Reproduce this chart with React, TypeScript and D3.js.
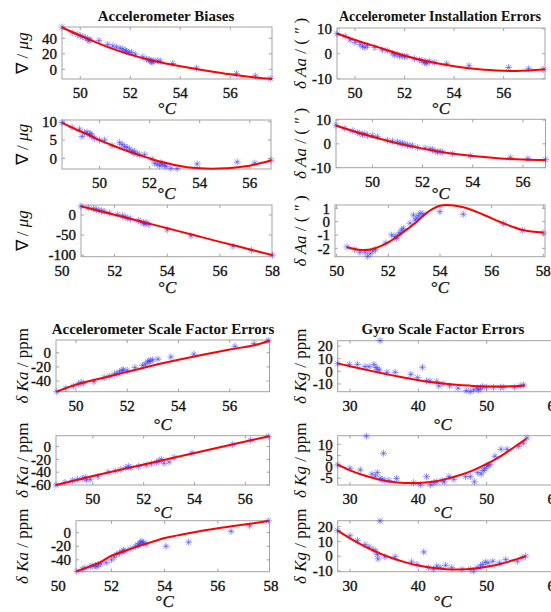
import * as d3 from 'd3';

const serif = "'Liberation Serif','Times New Roman',Times,serif";

// Accelerometer biases (three rows, same temperature sweeps as the other accel panels)
const biasFit1 = [[49.27, 54], [50, 43.5], [51, 30], [52, 19], [53, 10.5], [54, 4], [55, -1.5], [56, -6.5], [57, -10.5], [57.67, -12.5]];
const biasPts1 = [[49.27, 54.5], [49.7, 47], [49.9, 45], [50.0, 43], [50.1, 42], [50.2, 41], [50.3, 39], [50.35, 37], [50.4, 38], [50.75, 37], [51.1, 32], [51.3, 30], [51.45, 28.5], [51.6, 27], [51.7, 26], [51.8, 24.5], [51.85, 23], [51.95, 22], [52.05, 21.5], [52.2, 19.5], [52.5, 16], [52.65, 13], [52.75, 12.5], [52.8, 11], [52.85, 10], [52.9, 9.5], [52.95, 11], [53.1, 11], [53.2, 10.5], [53.7, 7.5], [54.65, 1.5], [56.25, -5.5], [57.0, -8.5], [57.6, -12]];

const biasFit2 = [[48.5, 9.7], [49, 8.1], [49.5, 6.6], [50, 5.0], [50.5, 3.6], [51, 2.3], [51.5, 1.1], [52, 0.0], [52.5, -1.0], [53, -1.8], [53.5, -2.4], [54, -2.7], [54.5, -2.8], [55, -2.7], [55.5, -2.4], [56, -2.0], [56.5, -1.2], [56.85, -0.6]];
const biasPts2 = [[48.5, 9.8], [48.9, 8.5], [49.2, 8], [49.3, 6], [49.4, 7], [49.5, 7.2], [49.6, 6.5], [49.65, 6.8], [49.7, 6.0], [49.8, 5.5], [50.0, 5], [50.2, 5], [50.5, 3.5], [50.8, 4.3], [50.9, 3.8], [51.0, 3.2], [51.1, 3], [51.2, 2.5], [51.3, 2], [51.35, 1.5], [51.4, 1.8], [51.5, 1.2], [51.6, 1.0], [51.8, 1.0], [52.1, -0.2], [52.2, -1.3], [52.3, -1.5], [52.4, -2.0], [52.45, -1.2], [52.5, -1.5], [52.6, -1.8], [52.65, -2.2], [52.85, -2.7], [53.1, -2.8], [53.9, -1.5], [55.5, -1.0], [56.2, -1.3], [56.85, -0.5]];

const biasFit3 = [[50.72, 22], [52, 0.5], [53, -16], [54, -33], [55, -50], [56, -67], [57, -83.5], [58, -100]];
const biasPts3 = [[50.72, 22], [51.0, 18], [51.2, 16], [51.3, 14], [51.4, 12], [51.5, 10], [51.6, 9], [51.8, 5], [52.1, 1], [52.3, -2], [52.4, -5], [52.5, -8], [52.6, -10], [52.9, -14], [53.0, -17], [53.1, -20], [53.15, -22], [53.2, -19], [53.3, -24], [54.0, -37], [54.9, -52], [56.5, -78], [57.2, -88], [58, -100]];

// Accelerometer installation errors
const instFit1 = [[49.27, 8.1], [50, 5.5], [51, 2.4], [52, -0.8], [53, -3.2], [54, -5.0], [55, -6.2], [56, -6.8], [56.5, -6.9], [57, -6.7], [57.67, -6.2]];
const instPts1 = [[49.27, 8], [49.6, 7], [49.8, 5.5], [50.0, 4.5], [50.2, 3.8], [50.3, 3.0], [50.4, 2.5], [50.5, 3.2], [50.8, 2.5], [51.1, 1.5], [51.3, 1.2], [51.5, 0.2], [51.6, -0.5], [51.7, -0.2], [51.8, -1], [51.9, -0.8], [52.0, -1.2], [52.1, -1.0], [52.4, -2], [52.6, -2.5], [52.7, -2.8], [52.8, -3.5], [52.85, -3.2], [52.9, -3.8], [53.0, -3], [53.2, -3.5], [53.7, -4], [54.6, -4.8], [56.2, -5.5], [57.0, -6], [57.6, -6.3]];

const instFit2 = [[48.55, 7.7], [49, 6.1], [50, 3.0], [51, 0.2], [52, -2.0], [53, -3.8], [54, -5.1], [55, -6.0], [56, -6.6], [56.9, -6.8]];
const instPts2 = [[48.55, 7.8], [48.9, 6.5], [49.2, 5.5], [49.4, 4.8], [49.5, 4.5], [49.6, 3.8], [49.7, 4.2], [49.8, 3.5], [50.0, 3.5], [50.2, 3.0], [50.6, 1.5], [50.8, 1.2], [51.0, 0.8], [51.1, 0.3], [51.2, 0.2], [51.3, -0.2], [51.4, -0.5], [51.5, -0.8], [51.6, -0.8], [51.8, -1.5], [52.1, -1.8], [52.3, -2.2], [52.4, -2.5], [52.5, -3], [52.6, -3.5], [52.7, -3.2], [52.8, -3.5], [53.2, -4.2], [53.9, -5], [55.5, -5.8], [56.2, -6.2], [56.9, -6.6]];

const instFit3 = [[50.4, -1.92], [50.9, -2.12], [51.36, -2.07], [51.94, -1.62], [52.6, -0.75], [53.1, 0.0], [53.5, 0.68], [54.0, 1.2], [54.9, 1.08], [55.7, 0.5], [56.45, -0.12], [57.2, -0.62], [58, -0.82]];
const instPts3 = [[50.4, -1.9], [50.7, -2.1], [50.9, -2.3], [51.1, -2.3], [51.2, -2.6], [51.3, -2.4], [51.4, -2.2], [51.5, -2.1], [51.9, -1.6], [52.13, -1.0], [52.26, -1.12], [52.32, -1.25], [52.39, -1.0], [52.45, -0.83], [52.52, -0.63], [52.58, -0.5], [52.84, -0.12], [52.97, 0.5], [53.04, 0.12], [53.1, 0.25], [53.17, 0.43], [53.23, 0.63], [53.34, 0.58], [54.0, 0.75], [54.9, 0.55], [56.45, -0.15], [57.2, -0.65], [58, -0.85]];

// Accelerometer scale factor errors
const kaFit1 = [[49.25, -55], [50, -45], [51, -36], [52, -27], [53, -18], [54, -10], [55, -2.5], [56, 4.5], [57, 11], [57.55, 17]];
const kaPts1 = [[49.25, -55], [49.6, -50], [49.9, -47], [50.1, -44], [50.2, -42], [50.3, -43], [50.7, -41], [51.1, -35], [51.3, -33], [51.5, -30], [51.6, -29], [51.7, -27], [51.8, -25], [51.85, -24], [52.0, -25], [52.3, -21], [52.6, -18], [52.7, -16], [52.8, -13], [52.85, -12], [52.9, -11], [53.0, -10], [53.2, -9], [53.7, -6], [54.6, -2], [56.2, 9], [56.95, 13], [57.5, 17.5]];

const kaFit2 = [[48.55, -60], [50, -46], [52, -28], [54, -10], [56, 8], [56.95, 16]];
const kaPts2 = [[48.55, -60], [48.9, -56], [49.2, -53], [49.4, -51], [49.6, -50], [49.7, -48], [49.75, -52], [49.9, -51], [50.2, -47], [50.6, -40], [50.9, -38], [51.1, -36], [51.3, -33], [51.4, -31], [51.5, -33], [51.8, -31], [52.1, -29], [52.3, -27], [52.5, -25], [52.6, -22], [52.7, -20], [52.8, -26], [53.0, -24], [53.2, -17], [53.9, -10], [55.5, 3], [56.2, 10], [56.9, 16]];

const kaFit3 = [[50.68, -57], [51.5, -45], [52, -34], [52.5, -27], [53, -20], [53.5, -14], [54, -8], [54.5, -4], [55, 0], [56, 6.5], [57, 12], [57.9, 17]];
const kaPts3 = [[50.7, -57], [50.9, -54], [51.0, -52], [51.2, -50], [51.3, -49], [51.4, -48], [51.45, -50], [51.5, -47], [51.6, -46], [51.8, -44], [52.0, -40], [52.1, -36], [52.2, -32], [52.3, -30], [52.4, -28], [52.45, -26], [52.5, -27], [52.7, -24], [52.9, -20], [53.0, -18], [53.05, -16], [53.1, -14], [53.15, -13], [53.2, -15], [53.3, -17], [54.05, -20], [54.9, -14], [56.5, 2], [57.2, 10], [57.9, 17.5]];

// Gyro scale factor errors
const kgFit1 = [[28.2, 6.3], [30, 4.0], [32, 1.6], [34, -0.8], [36, -3.0], [38, -5.0], [40, -7.0], [42, -8.6], [44, -9.9], [46, -10.9], [48, -11.5], [50, -11.9], [52, -12.0], [54, -11.7], [55.6, -11.2]];
const kgPts1 = [[28.2, 6], [29.9, 5.5], [31.1, 5.5], [32.2, 3.7], [32.8, 3.7], [33.5, 5.5], [33.8, 3], [34.0, 1.7], [34.3, 1], [34.4, 24.2], [35.4, -0.8], [36.6, -0.8], [38.9, -2.4], [39.9, -5], [40.6, 3.2], [41.2, -7.6], [41.7, -7.6], [42.7, -8.1], [43.0, -11.5], [43.6, -9.9], [44.6, -11.5], [45.8, -13.3], [47.0, -15.3], [47.6, -16], [48.1, -14.7], [48.6, -13.3], [48.8, -14.7], [49.1, -13.3], [49.4, -12.2], [50.0, -12.6], [51.0, -12.6], [52.0, -12.6], [52.5, -12.6], [54.1, -12.6], [54.9, -11.5], [55.4, -10.8]];

const kgFit2 = [[28.2, 1.0], [30, -1.5], [32, -3.7], [34, -5.4], [36, -6.6], [38, -7.1], [40, -7.1], [42, -6.6], [44, -5.4], [46, -3.7], [48, -1.5], [50, 1.3], [52, 4.7], [54, 8.7], [55.8, 12.4]];
const kgPts2 = [[28.2, 0.9], [30, -0.6], [31.5, -1.3], [32.4, 13.6], [33.2, -3.2], [33.7, -4.1], [34.0, -2.5], [34.4, -5.1], [34.7, -5.5], [34.9, 6.0], [35.1, -6], [35.7, -6], [36.8, -5.1], [39.3, -7], [40.3, -7.9], [41.2, -4.3], [41.8, -7.9], [42.3, -7], [42.7, -6.6], [43.5, -6], [43.8, -6.6], [44.5, -4.3], [45.2, -5.5], [46.9, -4.3], [47.6, -4.3], [48.2, -6.6], [48.7, -2.5], [49.2, -3.2], [49.5, -1.6], [49.7, -0.8], [50.0, 0.3], [50.2, 0.7], [50.5, 1.0], [51.2, 4.7], [52.1, 7.8], [53.0, 7.8], [54.7, 9.1], [55.4, 10.5], [55.9, 12.8]];

const kgFit3 = [[28.2, 17.3], [30, 12.1], [32, 7.0], [34, 2.6], [36, -1.1], [38, -4.0], [40, -6.3], [42, -7.9], [44, -8.8], [46, -9.0], [48, -8.5], [50, -7.2], [52, -5.3], [54, -2.6], [55.7, 0]];
const kgPts3 = [[28.2, 17.3], [30.0, 13.8], [31.1, 10.7], [32.2, 7.8], [32.8, 6.2], [33.4, 4.5], [33.8, 3.3], [34.0, 1.1], [34.1, -1.8], [34.4, 23.8], [35.1, -0.4], [36.6, -0.4], [39.0, -4], [39.8, -5.6], [40.8, 2.9], [41.5, -7.8], [42.2, -8.9], [42.7, -6.7], [43.2, -7.8], [44.0, -6.2], [44.9, -7.8], [46.4, -8.9], [47.6, -8.9], [48.1, -10], [48.6, -7.8], [49.1, -6.7], [49.4, -5.6], [49.8, -4], [50.2, -4.5], [50.9, -3.4], [51.9, -4.5], [52.8, -2.3], [54.5, -3.4], [55.2, -1.1], [55.7, 0]];

const accTicks = [50, 52, 54, 56];
const accTicks8 = [50, 52, 54, 56, 58];
const gyroTicks = [30, 40, 50, 60];

// panel layout: box edges (l,r,t,b), x scale (xd -> xr), y domain
const panels = [
  { l: 62, r: 272, t: 27, b: 79, xd: [49.27, 57.67], xr: [62, 272], yd: [-12.5, 54.6], xt: accTicks, yt: [0, 20, 40], fit: biasFit1, pts: biasPts1, lab: 'bias', xl: 114 },
  { l: 62, r: 271, t: 120, b: 169, xd: [48.5, 56.85], xr: [62, 271], yd: [-2.9, 10.5], xt: accTicks, yt: [0, 5, 10], fit: biasFit2, pts: biasPts2, lab: 'bias', xl: 199 },
  { l: 81, r: 272, t: 205, b: 256.7, xd: [50, 58], xr: [62, 272.5], yd: [-104, 25], xt: accTicks8, yt: [-100, -50, 0], fit: biasFit3, pts: biasPts3, lab: 'bias', xl: 293 },
  { l: 337, r: 545, t: 28, b: 79, xd: [49.27, 57.67], xr: [337, 545], yd: [-10.1, 10.3], xt: accTicks, yt: [-10, 0, 10], fit: instFit1, pts: instPts1, lab: 'inst', xl: 114 },
  { l: 336, r: 545.5, t: 119.3, b: 167.7, xd: [48.55, 56.9], xr: [336, 545.5], yd: [-10, 10.3], xt: accTicks, yt: [-10, 0, 10], fit: instFit2, pts: instPts2, lab: 'inst', xl: 199 },
  { l: 335, r: 545, t: 205, b: 256.7, xd: [50, 58], xr: [336.7, 543.3], yd: [-2.63, 1.25], xt: accTicks8, yt: [-2, -1, 0, 1], fit: instFit3, pts: instPts3, lab: 'inst', xl: 293 },
  { l: 56, r: 269.5, t: 340, b: 391.7, xd: [49.22, 57.55], xr: [56, 269.5], yd: [-55, 18], xt: accTicks, yt: [-40, -20, 0], fit: kaFit1, pts: kaPts1, lab: 'ka', xl: 430 },
  { l: 56, r: 269.5, t: 435.7, b: 485, xd: [48.55, 56.95], xr: [56, 269.5], yd: [-60, 17], xt: accTicks, yt: [-60, -40, -20, 0], fit: kaFit2, pts: kaPts2, lab: 'ka', xl: 518 },
  { l: 76, r: 269.5, t: 520.7, b: 571.7, xd: [50, 58], xr: [58.3, 271], yd: [-57.5, 17.6], xt: accTicks8, yt: [-40, -20, 0], fit: kaFit3, pts: kaPts3, lab: 'ka', xl: 607 },
  { l: 337.7, r: 555, t: 340.7, b: 391.7, xd: [28.2, 60], xr: [337.7, 555], yd: [-16.1, 24.2], xt: gyroTicks, yt: [-10, 0, 10, 20], fit: kgFit1, pts: kgPts1, lab: 'kg', xl: 430 },
  { l: 337.7, r: 555, t: 435.7, b: 485, xd: [28.2, 60], xr: [337.7, 555], yd: [-8, 13.8], xt: gyroTicks, yt: [-5, 0, 5, 10], fit: kgFit2, pts: kgPts2, lab: 'kg', xl: 518 },
  { l: 337.7, r: 555, t: 520.7, b: 571.7, xd: [28.2, 60], xr: [337.7, 555], yd: [-10.5, 24], xt: gyroTicks, yt: [-10, 0, 10, 20], fit: kgFit3, pts: kgPts3, lab: 'kg', xl: 607 },
];

const titles = [
  { text: 'Accelerometer Biases', x: 166, y: 21, size: 15 },
  { text: 'Accelerometer Installation Errors', x: 440, y: 21, size: 14 },
  { text: 'Accelerometer Scale Factor Errors', x: 163, y: 334, size: 15 },
  { text: 'Gyro Scale Factor Errors', x: 443, y: 334, size: 15 },
];

const star = 'M-3.5,0H3.5M0,-3.5V3.5M-2.5,-2.5L2.5,2.5M-2.5,2.5L2.5,-2.5';
const ink = '#111';

function YLabel({ kind, x, y }) {
  let body;
  if (kind === 'bias') body = <>∇ / <tspan fontStyle="italic">μg</tspan></>;
  else if (kind === 'inst') body = <><tspan fontStyle="italic">δ Aa</tspan> / ( <tspan fontStyle="italic">″</tspan> )</>;
  else if (kind === 'ka') body = <><tspan fontStyle="italic">δ Ka</tspan> / ppm</>;
  else body = <><tspan fontStyle="italic">δ Kg</tspan> / ppm</>;
  return (
    <text transform={`translate(${x},${y}) rotate(-90)`} textAnchor="middle" fontSize={17} fontFamily={serif} fill={ink}>
      {body}
    </text>
  );
}

function Panel({ p }) {
  const x = d3.scaleLinear().domain(p.xd).range(p.xr);
  const y = d3.scaleLinear().domain(p.yd).range([p.b, p.t]);
  const line = d3.line().x(d => x(d[0])).y(d => y(d[1])).curve(d3.curveCatmullRom);
  const grey = '#a3a3a3';
  const mid = (p.t + p.b) / 2;
  const leftCol = p.l < 200;
  const xc = (p.xr[0] + Math.min(p.xr[1], 548)) / 2;
  return (
    <g>
      <rect x={p.l} y={p.t} width={p.r - p.l} height={p.b - p.t} fill="white" stroke={grey} strokeWidth={1} />
      {p.xt.filter(v => x(v) > p.l && x(v) < p.r).map(v => (
        <g key={'xt' + v} stroke={grey}>
          <line x1={x(v)} x2={x(v)} y1={p.b} y2={p.b - 3} />
          <line x1={x(v)} x2={x(v)} y1={p.t} y2={p.t + 3} />
        </g>
      ))}
      {p.yt.map(v => (
        <g key={'yt' + v} stroke={grey}>
          <line x1={p.l} x2={p.l + 3} y1={y(v)} y2={y(v)} />
          <line x1={p.r} x2={p.r - 3} y1={y(v)} y2={y(v)} />
        </g>
      ))}
      {p.pts.map((d, i) => (
        <path key={i} d={star} transform={`translate(${x(d[0])},${y(d[1])})`} stroke="#3b3bff" strokeOpacity={0.6} strokeWidth={0.9} fill="none" />
      ))}
      <path d={line(p.fit)} fill="none" stroke="#ff0000" strokeWidth={2} />
      {p.xt.map(v => (
        <text key={'xl' + v} x={x(v)} y={p.b + 19} textAnchor="middle" fontSize={15} fontFamily={serif} fill={ink} stroke={ink} strokeWidth={0.35}>{v}</text>
      ))}
      {p.yt.map(v => (
        <text key={'yl' + v} x={p.l - 5} y={y(v)} dy="0.35em" textAnchor="end" fontSize={15} fontFamily={serif} fill={ink} stroke={ink} strokeWidth={0.35}>{v}</text>
      ))}
      <YLabel kind={p.lab} x={leftCol ? 28 : 306} y={mid} />
      <text x={xc} y={p.xl} textAnchor="middle" fontSize={17} fontFamily={serif} fill={ink} stroke={ink} strokeWidth={0.25}>
        °<tspan fontStyle="italic">C</tspan>
      </text>
    </g>
  );
}

export default function App() {
  return (
    <svg width={551} height={612} style={{ position: 'absolute', left: 0, top: 0, background: 'white' }}>
      {panels.map((p, i) => <Panel key={i} p={p} />)}
      {titles.map(t => (
        <text key={t.text} x={t.x} y={t.y} textAnchor="middle" fontSize={t.size} fontWeight="bold" fontFamily={serif} fill={ink}>{t.text}</text>
      ))}
    </svg>
  );
}
